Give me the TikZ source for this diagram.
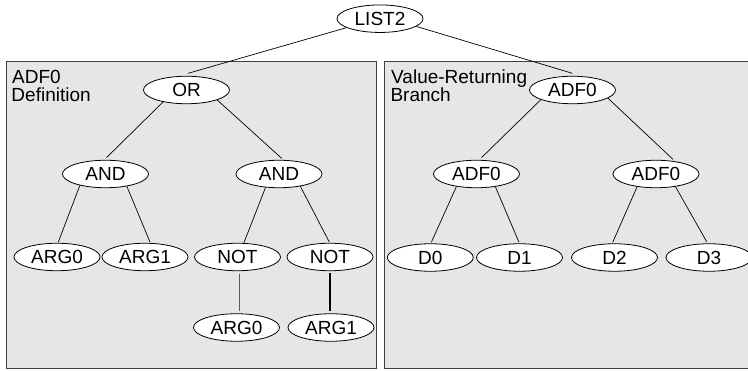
\documentclass[tikz,border=0pt]{standalone}
\usepackage{fontspec}
\setmainfont{Liberation Sans}
\usetikzlibrary{shapes.geometric}
\definecolor{boxfill}{HTML}{E6E6E6}
\definecolor{boxline}{HTML}{404040}
\definecolor{greyedge}{HTML}{5A5A5A}
\tikzset{
  tnode/.style={ellipse, draw=black, line width=0.8pt, fill=white,
    minimum width=86pt, minimum height=27.5pt, inner sep=0pt},
  edge/.style={draw=black, line width=0.7pt},
  vedge/.style={line width=1.1pt},
  panel/.style={draw=boxline, fill=boxfill, line width=0.8pt},
  lbl/.style={anchor=base west, inner sep=0pt, outer sep=0pt}
}
\begin{document}
\begin{tikzpicture}[x=1pt,y=-1pt,font=\fontsize{19}{19}\selectfont]
\clip (0,0) rectangle (748,371);
\fill[white] (0,0) rectangle (748,371);
% panels
\path[panel] (6.7,61.7) rectangle (376.7,368.3);
\path[panel] (384,61.7) rectangle (760,368.3);
\node[lbl] (la1) at (12.2,83.3) {ADF0};
\node[lbl] (la2) at (11.5,102) {Definition};
\node[lbl] (lb1) at (391.2,83.3) {Value-Returning};
\node[lbl] (lb2) at (390.5,102) {Branch};
% nodes
\node[tnode] (list2) at (380,18.7) {LIST2};
\node[tnode] (or) at (186.5,90) {OR};
\node[tnode] (and1) at (105.5,174) {AND};
\node[tnode] (and2) at (279,174) {AND};
\node[tnode] (arg0a) at (57,257) {ARG0};
\node[tnode] (arg1a) at (145,257) {ARG1};
\node[tnode] (not1) at (237.5,257) {NOT};
\node[tnode] (not2) at (330,257) {NOT};
\node[tnode] (arg0b) at (236.5,327.5) {ARG0};
\node[tnode] (arg1b) at (331,327.5) {ARG1};
\node[tnode] (adf0) at (572.5,90) {ADF0};
\node[tnode] (adf1) at (476.5,174) {ADF0};
\node[tnode] (adf2) at (656,174) {ADF0};
\node[tnode] (d0) at (430.3,257.5) {D0};
\node[tnode] (d1) at (519.5,257.5) {D1};
\node[tnode] (d2) at (614.5,257.5) {D2};
\node[tnode] (d3) at (709,257.5) {D3};
% edges
\draw[edge] (list2.-165) -- ([xshift=1.5pt,yshift=2.5pt]or.north);
\draw[edge] (list2.-12) -- ([yshift=2.5pt]adf0.north);
\draw[edge] (or.-153) -- ([xshift=1pt,yshift=2.2pt]and1.north);
\draw[edge] (or.-18) -- ([xshift=2.7pt,yshift=1.5pt]and2.north);
\draw[edge] (and1.-156) -- ([xshift=1.3pt,yshift=0.8pt]arg0a.north);
\draw[edge] (and1.-30) -- ([xshift=5pt,yshift=0.8pt]arg1a.north);
\draw[edge] (and2.-135) -- ([xshift=6.5pt,yshift=0.3pt]not1.north);
\draw[edge] (and2.-30) -- ([xshift=-0.7pt,yshift=0.8pt]not2.north);
\draw[vedge, draw=greyedge] ([xshift=1.8pt,yshift=-2.5pt]not1.south) -- ([xshift=1.8pt,yshift=2.3pt]not1.south |- arg0b.north);
\draw[vedge, draw=black] ([yshift=-1.5pt]not2.south) -- ([yshift=2.3pt]not2.south |- arg1b.north);
\draw[edge] (adf0.-163) -- ([xshift=5pt,yshift=2.2pt]adf1.north);
\draw[edge] (adf0.-13) -- ([xshift=17pt,yshift=0.5pt]adf2.north);
\draw[edge] (adf1.-148) -- ([xshift=1pt,yshift=1pt]d0.north);
\draw[edge] (adf1.-34) -- ([xshift=-0.5pt,yshift=1pt]d1.north);
\draw[edge] (adf2.-146) -- ([xshift=-1.8pt,yshift=1pt]d2.north);
\draw[edge] (adf2.-33) -- ([xshift=-2.3pt,yshift=1.6pt]d3.north);
\end{tikzpicture}
\end{document}
